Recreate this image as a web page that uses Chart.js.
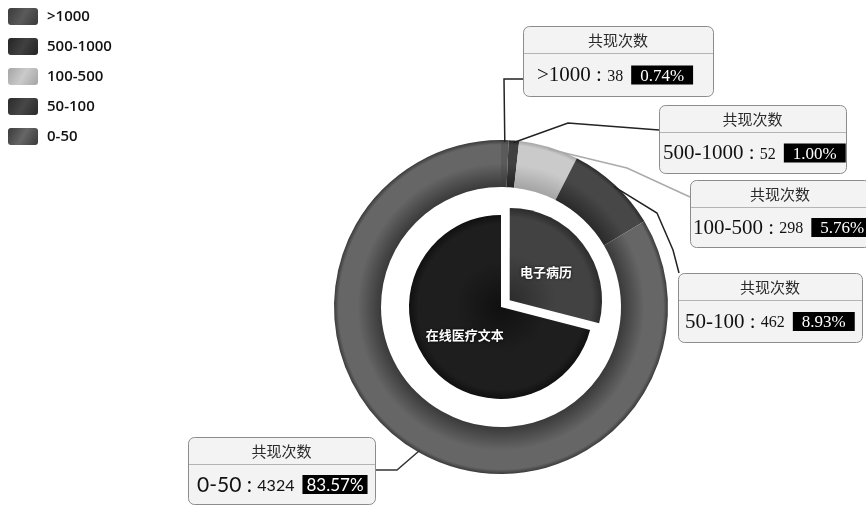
<!DOCTYPE html>
<html>
<head>
<meta charset="utf-8">
<script src="https://cdn.jsdelivr.net/npm/chart.js@4.4.0/dist/chart.umd.min.js"></script>
<style>
  html, body { margin: 0; padding: 0; background: #fff; }
  #wrap { width: 866px; height: 505px; }
</style>
</head>
<body>
<div id="wrap"><canvas id="chart"></canvas></div>
<script>
// outer ring: co-occurrence count ranges
const ringLabels = [">1000", "500-1000", "100-500", "50-100", "0-50"];
const ringCounts = [38, 52, 298, 462, 4324];
const ringShares = ["0.74%", "1.00%", "5.76%", "8.93%", "83.57%"];

const pieLabels = ["电子病历", "在线医疗文本"];
const pieShares = [29, 71];

const calloutTitle = "共现次数";

// [edge, middle] grey for each slice, used for the radial shading
const ringShades = [
  ["#3a3a3a", "#5a5a5a"],
  ["#242424", "#404040"],
  ["#a4a4a4", "#cacaca"],
  ["#2a2a2a", "#474747"],
  ["#3a3a3a", "#666666"],
];
const pieShades = [
  ["#2c2c2c", "#424242"],
  ["#101010", "#1e1e1e"],
];

// callout boxes and the bends of their leader lines
const calloutLayout = [
  { x: 523, y: 26, w: 190, h: 70, pad: 14, badgePad: 9, family: "Liberation Serif", line: "#222", path: [[504, 79], [523, 79]] },
  { x: 659, y: 105, w: 187, h: 68, pad: 4, badgePad: 9, family: "Liberation Serif", line: "#222", path: [[568, 123], [659, 130]] },
  { x: 690, y: 180, w: 180, h: 67, pad: 3, badgePad: 9, family: "Liberation Serif", line: "#aaa", path: [[627, 168], [690, 197]] },
  { x: 678, y: 273, w: 184, h: 69, pad: 7, badgePad: 9, family: "Liberation Serif", line: "#222", path: [[657, 213], [673, 250], [679, 273]] },
  { x: 188, y: 437, w: 187, h: 67, pad: 9, badgePad: 4, family: "Lato", line: "#333", path: [[397, 470], [375, 470]] },
];

const HEADER_H = 27;

// radial gradient between the ring's inner and outer radius
function shade(ctx, shades) {
  const chart = ctx.chart;
  const area = chart.chartArea;
  const pair = shades[ctx.dataIndex];
  if (!area) return pair[1];
  const ctrl = chart.getDatasetMeta(ctx.datasetIndex).controller;
  const cx = (area.left + area.right) / 2 + (ctrl.offsetX || 0);
  const cy = (area.top + area.bottom) / 2 + (ctrl.offsetY || 0);
  const r0 = ctrl.innerRadius || 0;
  const r1 = ctrl.outerRadius || 1;
  const g = chart.ctx.createRadialGradient(cx, cy, r0, cx, cy, r1);
  g.addColorStop(0, pair[0]);
  g.addColorStop(0.5, pair[1]);
  g.addColorStop(0.9, pair[1]);
  g.addColorStop(1, pair[0]);
  return g;
}

function drawCallout(c, box, label, count, share) {
  c.save();
  c.beginPath();
  c.roundRect(box.x + 0.5, box.y + 0.5, box.w, box.h, 6);
  c.fillStyle = "#f3f3f3";
  c.fill();
  c.lineWidth = 1;
  c.strokeStyle = "#8c8c8c";
  c.stroke();

  c.beginPath();
  c.moveTo(box.x + 1, box.y + HEADER_H + 0.5);
  c.lineTo(box.x + box.w, box.y + HEADER_H + 0.5);
  c.strokeStyle = "#b4b4b4";
  c.stroke();

  c.fillStyle = "#2a2a2a";
  c.font = '15px "Noto Sans CJK SC"';
  c.textAlign = "center";
  c.textBaseline = "middle";
  c.fillText(calloutTitle, box.x + box.w / 2, box.y + HEADER_H / 2 + 1);

  const y = box.y + HEADER_H + (box.h - HEADER_H) / 2 + 1;
  let x = box.x + box.pad;
  c.textAlign = "left";
  c.fillStyle = "#111";
  c.font = `21px "${box.family}"`;
  const head = label + " : ";
  c.fillText(head, x, y);
  x += c.measureText(head).width;
  c.font = `16px "${box.family}"`;
  c.fillText(String(count), x, y + 1);
  x += c.measureText(String(count)).width + 8;

  c.font = `17px "${box.family}"`;
  const bw = c.measureText(share).width + box.badgePad * 2;
  c.fillStyle = "#000";
  c.fillRect(x, y - 10, bw, 19);
  c.fillStyle = "#fff";
  c.textAlign = "center";
  c.fillText(share, x + bw / 2, y + 1);
  c.restore();
}

const calloutPlugin = {
  id: "callouts",
  afterDatasetsDraw(chart) {
    const c = chart.ctx;

    // labels on the inner pie, following the slice offset
    const pieMeta = chart.getDatasetMeta(2);
    pieMeta.data.forEach((arc, i) => {
      const { x, y, startAngle, endAngle, outerRadius } = arc.getProps(["x", "y", "startAngle", "endAngle", "outerRadius"]);
      const mid = (startAngle + endAngle) / 2;
      const r = outerRadius / 2 + (arc.options.offset || 0) / 4;
      c.save();
      c.font = 'bold 13px "Noto Sans CJK SC"';
      c.textAlign = "center";
      c.textBaseline = "middle";
      c.shadowColor = "rgba(0,0,0,0.8)";
      c.shadowBlur = 3;
      c.fillStyle = "#fff";
      c.fillText(pieLabels[i], x + Math.cos(mid) * r, y + Math.sin(mid) * r);
      c.restore();
    });

    // leader lines + boxes for the ring
    const ringMeta = chart.getDatasetMeta(0);
    ringMeta.data.forEach((arc, i) => {
      const { x, y, startAngle, endAngle, outerRadius } = arc.getProps(["x", "y", "startAngle", "endAngle", "outerRadius"]);
      const mid = (startAngle + endAngle) / 2;
      const box = calloutLayout[i];
      c.save();
      c.beginPath();
      c.moveTo(x + Math.cos(mid) * (outerRadius - 2), y + Math.sin(mid) * (outerRadius - 2));
      box.path.forEach(pt => c.lineTo(pt[0], pt[1]));
      c.lineWidth = 1.5;
      c.strokeStyle = box.line;
      c.stroke();
      c.restore();
      drawCallout(c, box, ringLabels[i], ringCounts[i], ringShares[i]);
    });
  },
  afterDraw(chart) {
    // legend, top left
    const c = chart.ctx;
    ringLabels.forEach((lab, i) => {
      const top = 8 + i * 30;
      c.save();
      const g = c.createLinearGradient(8, top, 38, top + 17);
      g.addColorStop(0, ringShades[i][0]);
      g.addColorStop(0.5, ringShades[i][1]);
      g.addColorStop(1, ringShades[i][0]);
      c.beginPath();
      c.roundRect(8, top, 30, 17, 3);
      c.fillStyle = g;
      c.fill();
      c.fillStyle = "#111";
      c.font = '600 15px "Open Sans"';
      c.textBaseline = "middle";
      c.fillText(lab, 47, top + 9);
      c.restore();
    });
  },
};

new Chart(document.getElementById("chart"), {
  type: "doughnut",
  data: {
    labels: ringLabels,
    datasets: [
      {
        data: ringCounts,
        weight: 47,
        backgroundColor: ctx => shade(ctx, ringShades),
        borderWidth: 0,
      },
      {
        // empty white band between ring and pie
        data: [1],
        weight: 28,
        backgroundColor: "rgba(0,0,0,0)",
        borderWidth: 0,
      },
      {
        data: pieShares,
        weight: 92,
        backgroundColor: ctx => shade(ctx, pieShades),
        borderWidth: 0,
        // arc offset is drawn at a quarter of its value
        offset: [44, 0],
      },
    ],
  },
  options: {
    responsive: true,
    maintainAspectRatio: false,
    animation: false,
    cutout: 0,
    radius: 167,
    layout: { padding: { left: 136, top: 109 } },
    plugins: {
      legend: { display: false },
      tooltip: { enabled: false },
    },
  },
  plugins: [calloutPlugin],
});
</script>
</body>
</html>
